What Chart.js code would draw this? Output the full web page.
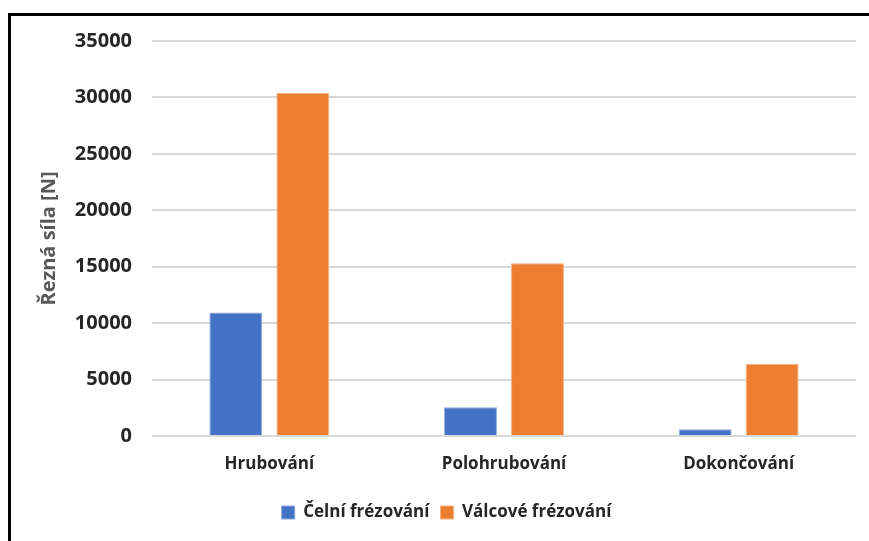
<!DOCTYPE html>
<html>
<head>
<meta charset="utf-8">
<script src="https://cdn.jsdelivr.net/npm/chart.js@4/dist/chart.umd.min.js"></script>
<style>
  html, body { margin: 0; padding: 0; background: #fff; }
  body { width: 869px; height: 541px; position: relative; overflow: hidden; }
  .frame { position: absolute; left: 8px; top: 13px; width: 900px; height: 600px;
           border-left: 3px solid #000; border-top: 3px solid #000; box-sizing: border-box; }
  #wrap { position: absolute; left: 0; top: 0; width: 869px; height: 541px; }
</style>
</head>
<body>
<div class="frame"></div>
<div id="wrap"><canvas id="c" width="869" height="541"></canvas></div>
<script>
// Cutting force by machining stage
const categories = ['Hrubování', 'Polohrubování', 'Dokončování'];
const celniFrezovani = [10950, 2550, 600];
const valcoveFrezovani = [30400, 15300, 6400];
const seriesNames = ['Čelní frézování', 'Válcové frézování'];
const yTicks = [0, 5000, 10000, 15000, 20000, 25000, 30000, 35000];
const yTitle = 'Řezná síla [N]';

const FONT = '"Open Sans", "Noto Sans", sans-serif';

new Chart(document.getElementById('c'), {
  type: 'bar',
  data: {
    labels: categories,
    datasets: [
      { label: seriesNames[0], data: celniFrezovani, backgroundColor: '#4472C4',
        borderColor: '#8FAADC', borderWidth: 1, borderSkipped: 'bottom' },
      { label: seriesNames[1], data: valcoveFrezovani, backgroundColor: '#ED7D31',
        borderColor: '#F4B183', borderWidth: 1, borderSkipped: 'bottom' }
    ]
  },
  options: {
    responsive: false,
    animation: false,
    devicePixelRatio: 1,
    layout: { padding: { top: 41, right: 13, bottom: 10, left: 37 } },
    datasets: { bar: { categoryPercentage: 0.571, barPercentage: 0.79 } },
    plugins: {
      legend: {
        position: 'bottom',
        labels: {
          boxWidth: 13, boxHeight: 13, padding: 11,
          color: '#262626',
          font: { family: FONT, size: 17, weight: 'bold' }
        }
      },
      tooltip: { enabled: false }
    },
    scales: {
      x: {
        grid: { display: false, drawTicks: false },
        border: { display: false },
        ticks: { color: '#262626', padding: 18, font: { family: FONT, size: 17, weight: 'bold' } },
        afterFit: (s) => { s.height = 57; }
      },
      y: {
        min: 0, max: 35000,
        afterBuildTicks: (s) => { s.ticks = yTicks.map(v => ({ value: v })); },
        grid: { color: '#D9D9D9', lineWidth: 2, drawTicks: false },
        border: { display: false },
        ticks: { color: '#262626', padding: 20, font: { family: FONT, size: 20, weight: 'bold' },
                 callback: (v) => String(v) },
        title: { display: true, text: yTitle, color: '#595959',
                 font: { family: FONT, size: 20, weight: 'bold' }, padding: { top: 0, bottom: 0 } },
        afterFit: (s) => { s.width = 115; }
      }
    }
  }
});
</script>
</body>
</html>
